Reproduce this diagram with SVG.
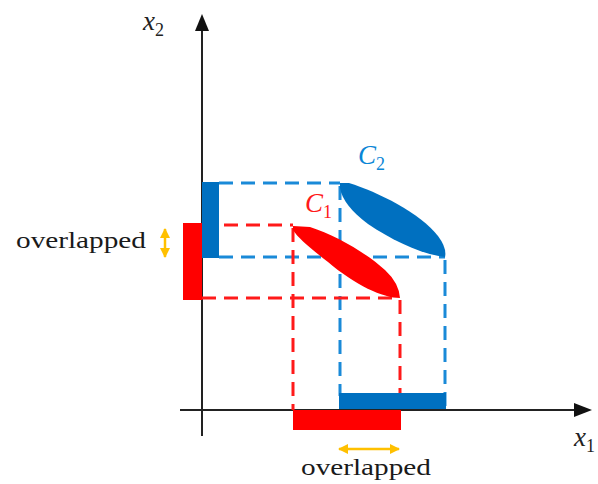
<svg xmlns="http://www.w3.org/2000/svg" width="598" height="484" viewBox="0 0 598 484">
<style>
.ax{stroke:#222;stroke-width:2;fill:none}
.db{stroke:#1a8ad8;stroke-width:3;stroke-dasharray:14 8;fill:none}
.dr{stroke:#ff1a1a;stroke-width:3;stroke-dasharray:14 8;fill:none}
.lbl{font-family:"Liberation Serif","DejaVu Serif",serif;font-size:23px;fill:#1a1a1a}
.var{font-family:"Liberation Serif","DejaVu Serif",serif;font-style:italic;font-size:27px}
.sub{font-size:18px;font-style:normal}
.or{stroke:#ffc000;stroke-width:2.5;fill:none}
</style>
<defs>
<marker id="oa" viewBox="0 0 10 10" refX="9" refY="5" markerWidth="4" markerHeight="4" orient="auto-start-reverse"><path d="M0,0 L10,5 L0,10 Z" fill="#ffc000"/></marker>
</defs>
<g id="axes">
<line class="ax" x1="202" y1="436" x2="202" y2="30"/>
<path d="M195,31 L202,14 L209,31 Z" fill="#111"/>
<line class="ax" x1="180" y1="410" x2="575" y2="410"/>
<path d="M574,403 L592,410 L574,417 Z" fill="#111"/>
<text class="var" x="143" y="30" fill="#222">x<tspan class="sub" dy="6">2</tspan></text>
<text class="var" x="574" y="446" fill="#222">x<tspan class="sub" dy="6">1</tspan></text>
</g>
<g id="connectors">
<path class="db" d="M219,183 H340 M219,257 H445 M340,186 V396 M445,260 V410"/>
<path class="dr" d="M202,225 H293 M202,298 H400 M293,228 V410 M400,300 V410"/>
</g>
<g id="C2">
<path d="M340,183 L349,183 C378,192 420,213 438,236 Q447,248 445,257 C420,254 392,240 368,224 C352,212 342,200 340,188 Z" fill="#0070c0"/>
<text class="var" x="358" y="164" fill="#0a86d6">C<tspan class="sub" dy="6">2</tspan></text>
</g>
<g id="C1">
<path d="M293,226 L310,227 C335,235 365,252 385,270 Q399,283 400,298 C383,298 355,285 328,262 C310,248 298,238 293,230 Z" fill="#ff0000"/>
<text class="var" x="305" y="212" fill="#ff1a1a">C<tspan class="sub" dy="6">1</tspan></text>
</g>
<g id="bars">
<rect x="202" y="182" width="17" height="76" fill="#0070c0"/>
<rect x="183" y="223" width="19" height="77" fill="#ff0000"/>
<rect x="339" y="393" width="107" height="16" fill="#0070c0"/>
<rect x="293" y="410" width="108" height="20" fill="#ff0000"/>
</g>
<g id="overlap-y">
<line class="or" x1="165" y1="229" x2="165" y2="257" marker-start="url(#oa)" marker-end="url(#oa)"/>
<text class="lbl" x="16" y="248" textLength="130" lengthAdjust="spacingAndGlyphs">overlapped</text>
</g>
<g id="overlap-x">
<line class="or" x1="339" y1="449" x2="399" y2="449" marker-start="url(#oa)" marker-end="url(#oa)"/>
<text class="lbl" x="301" y="475" textLength="130" lengthAdjust="spacingAndGlyphs">overlapped</text>
</g>
</svg>
